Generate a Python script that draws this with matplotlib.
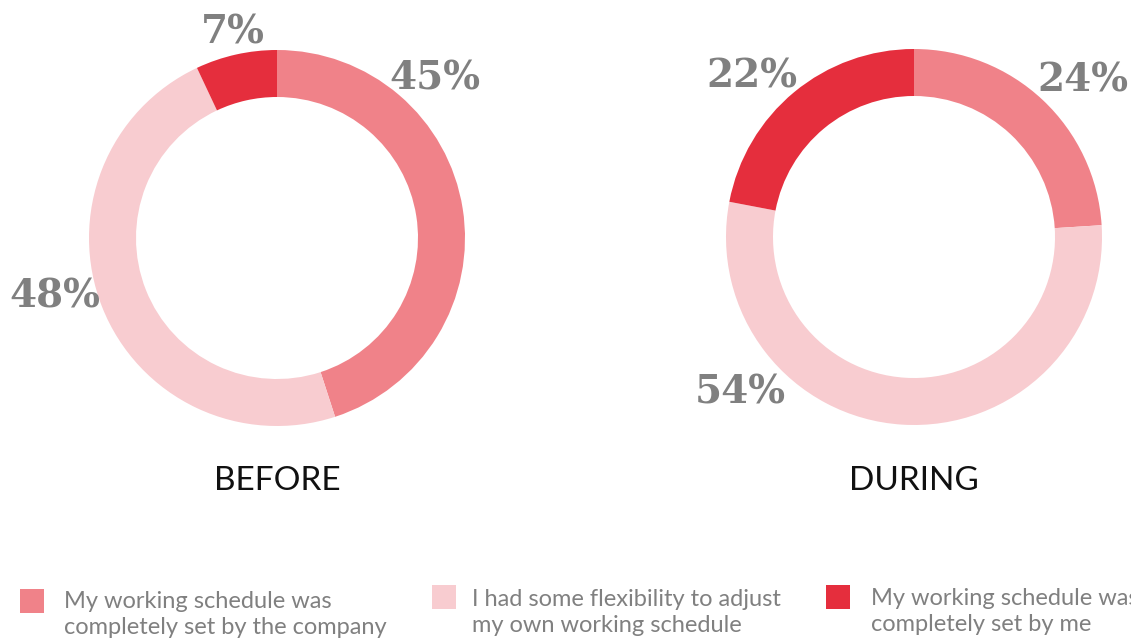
import matplotlib.pyplot as plt

# shares for each period, same order as the legend
categories = ["My working schedule was\ncompletely set by the company",
              "I had some flexibility to adjust\nmy own working schedule",
              "My working schedule was\ncompletely set by me"]
before = [45, 48, 7]
during = [24, 54, 22]
titles = ["BEFORE", "DURING"]

colors = ["#F08289", "#F8CCD0", "#E52E3D"]
grey = "#808080"

W, H = 1131, 641
fig = plt.figure(figsize=(W / 100, H / 100), dpi=100)
ax = fig.add_axes([0, 0, 1, 1])

# pixel helpers (y measured from the top)
def py(y):
    return H - y

centers = [(277, 238), (914, 237)]
radius = 188

for vals, (cx, cy), title in zip([before, during], centers, titles):
    ax.pie(vals, colors=colors, startangle=90, counterclock=False,
           center=(cx, py(cy)), radius=radius,
           wedgeprops=dict(width=47, linewidth=0))
    ax.text(cx, py(481), title, ha="center", va="center", fontsize=24,
            family="Lato", color="#111111")

# percentage labels placed around the rings
label_pos = {
    "before": [(435, 78), (55, 297), (233, 32)],
    "during": [(1083, 81), (740, 393), (752, 76)],
}
for vals, key in [(before, "before"), (during, "during")]:
    for v, (x, y) in zip(vals, label_pos[key]):
        ax.text(x, py(y), f"{v}%", ha="center", va="center", fontsize=28,
                family="DejaVu Serif", fontweight="bold", color=grey)

# legend drawn by hand
leg_sq = [(20, 589), (432, 585), (826, 585)]
leg_txt = [(64, 591), (472, 589), (871, 588)]
for c, lab, (sx, sy), (tx, ty) in zip(colors, categories, leg_sq, leg_txt):
    ax.add_patch(plt.Rectangle((sx, py(sy + 24)), 24, 24, color=c, lw=0))
    ax.text(tx, py(ty), lab, ha="left", va="top", fontsize=17,
            family="Lato", color=grey, linespacing=1.3)

ax.set_xlim(0, W)
ax.set_ylim(0, H)
ax.set_aspect("equal")
ax.axis("off")

fig.savefig("out.png", dpi=100)
